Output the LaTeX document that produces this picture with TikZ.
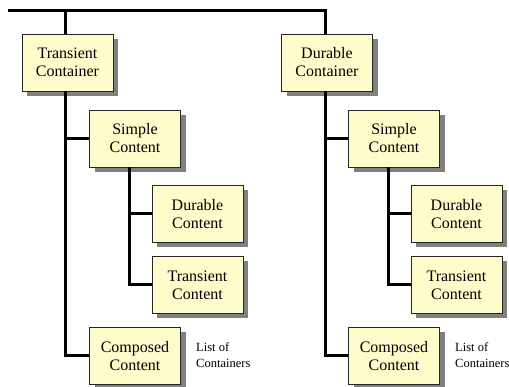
\documentclass[tikz,border=0pt]{standalone}
\usepackage{fontspec}
\setmainfont{Liberation Serif}
\usetikzlibrary{shadows}

\begin{document}
\begin{tikzpicture}[x=1pt, y=-1pt,
	box/.style={draw=black!85, line width=0.8pt, fill=yellow!20,
		minimum width=91pt, minimum height=57pt, inner sep=0pt,
		align=center, font=\fontsize{16}{18}\selectfont,
		drop shadow={shadow xshift=5pt, shadow yshift=-5pt, fill=black!50, opacity=1}},
	branch/.style={line width=3pt},
	note/.style={anchor=west, align=left, inner sep=0pt,
		font=\fontsize{12.5}{16}\selectfont}]
\useasboundingbox (0,0) rectangle (509,387);

% left column
\node[box] (tcont) at (67.5,62.5) {Transient\\Container};
\node[box] (lsimple) at (135,138.5) {Simple\\Content};
\node[box] (ldur) at (197.5,214) {Durable\\Content};
\node[box] (ltrans) at (197.5,285) {Transient\\Content};
\node[box] (lcomp) at (135,356) {Composed\\Content};
\node[note] (llist) at (196,355) {List of\\Containers};

% right column
\node[box] (dcont) at (327,62.5) {Durable\\Container};
\node[box] (rsimple) at (394,138.5) {Simple\\Content};
\node[box] (rdur) at (456.5,214) {Durable\\Content};
\node[box] (rtrans) at (456.5,285) {Transient\\Content};
\node[box] (rcomp) at (394,356) {Composed\\Content};
\node[note] (rlist) at (455,355) {List of\\Containers};

\coordinate (root) at (8,10.5);

\draw[branch] (root) -| ([xshift=-2pt]dcont.north);
\draw[branch] ([xshift=-2pt]tcont.north) -- ([xshift=-2pt]tcont.north |- root);

\draw[branch] ([xshift=-2pt]tcont.south) |- (lsimple.west);
\draw[branch] ([xshift=-2pt]tcont.south) |- (lcomp.west);
\draw[branch] ([xshift=-6pt]lsimple.south) |- (ldur.west);
\draw[branch] ([xshift=-6pt]lsimple.south) |- (ltrans.west);

\draw[branch] ([xshift=-2pt]dcont.south) |- (rsimple.west);
\draw[branch] ([xshift=-2pt]dcont.south) |- (rcomp.west);
\draw[branch] ([xshift=-6pt]rsimple.south) |- (rdur.west);
\draw[branch] ([xshift=-6pt]rsimple.south) |- (rtrans.west);
\end{tikzpicture}
\end{document}
